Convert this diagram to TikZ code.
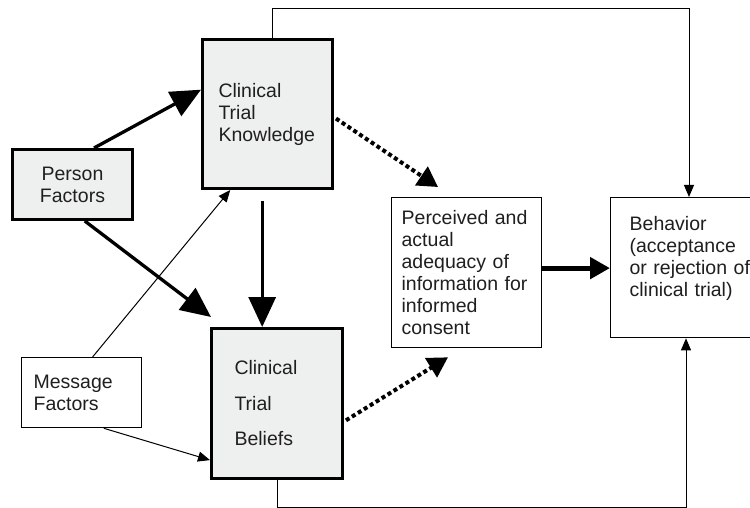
\documentclass[tikz,border=0pt]{standalone}
\usepackage{fontspec}
\setmainfont{Liberation Sans}
\usetikzlibrary{arrows.meta,calc}
\definecolor{boxgray}{RGB}{238,240,239}
\tikzset{
  factorbox/.style={draw, line width=1.3pt, anchor=north west, align=left, text=black!88, font=\fontsize{19.5}{22}\selectfont},
  keybox/.style={factorbox, line width=3pt, fill=boxgray},
  bigarrow/.style={line width=3.3pt, -{Triangle[length=30pt,width=27pt]}},
  thinarrow/.style={line width=1pt, -{Triangle[length=12pt,width=10pt]}},
  dotarrow/.style={line width=4pt, dash pattern=on 4pt off 3pt, -{Triangle[length=20pt,width=22pt]}},
}
\begin{document}
\begin{tikzpicture}[x=1pt, y=-1pt]
    \clip (0,0) rectangle (750,508);
    \fill[white] (0,0) rectangle (750,508);
    % boxes
    \node[keybox, align=center, text width=100pt, inner xsep=10pt, minimum height=70pt] (pf) at (11,148) {Person\\Factors};
    \node[keybox, text width=98pt, inner xsep=16pt, minimum height=149pt] (ctk) at (201,38) {Clinical\\Trial\\Knowledge};
    \node[keybox, text width=85pt, inner xsep=23pt, minimum height=150pt, font=\fontsize{19.5}{35.5}\selectfont] (ctb) at (210,327) {Clinical\\Trial\\Beliefs};
    \node[factorbox, text width=96pt, inner xsep=12pt, minimum height=70pt] (mf) at (21,357) {Message\\Factors};
    \node[factorbox, text width=130pt, inner xsep=10pt, minimum height=150pt] (pa) at (391,197) {Perceived and\\actual\\adequacy of\\information for\\informed\\consent};
    \node[factorbox, text width=125pt, inner xsep=19pt, minimum height=140pt] (beh) at (610,197) {Behavior\\(acceptance\\or rejection of\\clinical trial)\\\mbox{}};
    % heavy arrows
    \draw[bigarrow] ($(pf.north west)!0.675!(pf.north east)$) -- ($(ctk.north west)!0.34!(ctk.south west)$);
    \draw[bigarrow] ($(pf.south west)!0.6!(pf.south east)$) -- ($(ctb.north west)+(1,-10)$);
    \coordinate (kb) at ($(ctk.south west)!0.46!(ctk.south east)+(0,11)$);
    \draw[bigarrow] (kb) -- (kb |- ctb.north);
    % message factors
    \draw[thinarrow] ($(mf.north west)!0.59!(mf.north east)$) -- ($(ctk.south west)!0.22!(ctk.south east)$);
    \draw[thinarrow] ($(mf.south west)!0.683!(mf.south east)$) -- ($(ctb.north west)!0.87!(ctb.south west)$);
    % dotted arrows
    \draw[dotarrow] ($(ctk.north east)!0.53!(ctk.south east)+(2,0)$) -- ($(pa.north west)+(47,-10)$);
    \draw[dotarrow] ($(ctb.north east)!0.61!(ctb.south east)+(2,0)$) -- ($(pa.south west)+(57,9)$);
    % to behavior
    \coordinate (pb) at ($(pa.north east)!0.47!(pa.south east)$);
    \draw[line width=5pt, -{Triangle[length=20pt,width=21pt]}] (pb) -- (pb -| beh.west);
    \draw[thinarrow] ($(ctk.north west)!0.54!(ctk.north east)$) -- ++(0,-29.5) -| ($(beh.north west)+(79,0)$);
    \draw[thinarrow] (ctb.south) -- ++(0,27.5) -| ($(beh.south west)+(76,0)$);
\end{tikzpicture}
\end{document}
